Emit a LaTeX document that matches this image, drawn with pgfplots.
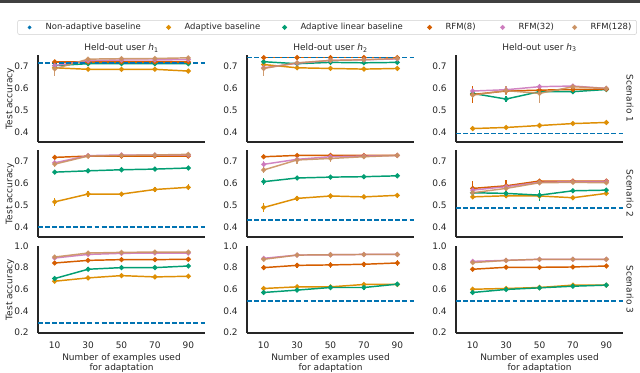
\documentclass[border=0pt]{standalone}
\usepackage{fontspec}
\setmainfont{DejaVu Sans}
\usepackage{pgfplots}
\usepackage{pgfplotstable}
\pgfplotsset{compat=1.18}

\definecolor{cblue}{HTML}{0173B2}
\definecolor{corange}{HTML}{DE8F05}
\definecolor{cgreen}{HTML}{029E73}
\definecolor{cverm}{HTML}{D55E00}
\definecolor{cpink}{HTML}{CC78BC}
\definecolor{ctan}{HTML}{CA9161}
\definecolor{txt}{HTML}{262626}

% columns: x, adaptive, adaptive linear, RFM(8), RFM(32), RFM(128) (value + error)
\pgfplotstableread{
x  ab    abe   alb   albe  ra    rae   rb    rbe   rc    rce
10 0.695 0.008 0.705 0.006 0.722 0.004 0.705 0.012 0.690 0.034
30 0.688 0.005 0.714 0.003 0.722 0.003 0.728 0.004 0.735 0.004
50 0.688 0.004 0.714 0.003 0.722 0.003 0.731 0.003 0.737 0.003
70 0.688 0.004 0.714 0.003 0.722 0.003 0.731 0.003 0.738 0.003
90 0.680 0.004 0.714 0.003 0.722 0.003 0.733 0.003 0.741 0.003
}\tAA
\pgfplotstableread{
x  ab    abe   alb   albe  ra    rae   rb    rbe   rc    rce
10 0.710 0.006 0.723 0.005 0.742 0.003 0.695 0.012 0.692 0.033
30 0.695 0.005 0.714 0.004 0.742 0.003 0.716 0.006 0.718 0.006
50 0.692 0.004 0.720 0.003 0.742 0.003 0.729 0.004 0.729 0.004
70 0.689 0.004 0.718 0.003 0.742 0.003 0.732 0.003 0.732 0.003
90 0.692 0.004 0.720 0.003 0.742 0.003 0.736 0.003 0.738 0.003
}\tAB
\pgfplotstableread{
x  ab    abe   alb   albe  ra    rae   rb    rbe   rc    rce
10 0.415 0.008 0.577 0.010 0.572 0.040 0.588 0.010 0.569 0.012
30 0.420 0.007 0.551 0.015 0.588 0.012 0.594 0.010 0.590 0.020
50 0.429 0.008 0.585 0.010 0.592 0.010 0.608 0.008 0.577 0.045
70 0.438 0.007 0.585 0.008 0.595 0.008 0.611 0.008 0.608 0.008
90 0.443 0.008 0.595 0.006 0.597 0.006 0.600 0.006 0.600 0.006
}\tAC
\pgfplotstableread{
x  ab    abe   alb   albe  ra    rae   rb    rbe   rc    rce
10 0.515 0.017 0.652 0.006 0.720 0.005 0.695 0.012 0.689 0.015
30 0.551 0.012 0.658 0.006 0.726 0.004 0.728 0.004 0.726 0.004
50 0.551 0.010 0.663 0.005 0.726 0.004 0.731 0.003 0.729 0.003
70 0.572 0.010 0.666 0.005 0.726 0.004 0.731 0.003 0.731 0.003
90 0.582 0.013 0.671 0.005 0.726 0.004 0.731 0.003 0.734 0.003
}\tBA
\pgfplotstableread{
x  ab    abe   alb   albe  ra    rae   rb    rbe   rc    rce
10 0.489 0.022 0.608 0.017 0.723 0.008 0.688 0.015 0.662 0.012
30 0.531 0.012 0.625 0.005 0.729 0.004 0.711 0.008 0.708 0.020
50 0.542 0.010 0.629 0.004 0.729 0.003 0.723 0.005 0.715 0.015
70 0.538 0.010 0.631 0.004 0.729 0.003 0.726 0.004 0.723 0.008
90 0.545 0.012 0.635 0.004 0.729 0.003 0.729 0.003 0.729 0.004
}\tBB
\pgfplotstableread{
x  ab    abe   alb   albe  ra    rae   rb    rbe   rc    rce
10 0.538 0.008 0.557 0.010 0.577 0.035 0.569 0.012 0.557 0.015
30 0.543 0.008 0.554 0.010 0.589 0.025 0.585 0.010 0.577 0.010
50 0.542 0.008 0.546 0.025 0.611 0.006 0.605 0.006 0.603 0.006
70 0.534 0.006 0.566 0.006 0.611 0.006 0.608 0.006 0.605 0.006
90 0.554 0.006 0.569 0.006 0.611 0.006 0.608 0.006 0.603 0.006
}\tBC
\pgfplotstableread{
x  ab    abe   alb   albe  ra    rae   rb    rbe   rc    rce
10 0.674 0.010 0.699 0.025 0.843 0.020 0.889 0.015 0.898 0.020
30 0.705 0.010 0.785 0.020 0.867 0.015 0.922 0.008 0.935 0.008
50 0.726 0.008 0.800 0.015 0.874 0.015 0.932 0.006 0.941 0.006
70 0.714 0.008 0.800 0.015 0.874 0.015 0.935 0.006 0.944 0.006
90 0.720 0.008 0.815 0.015 0.877 0.015 0.935 0.006 0.944 0.006
}\tCA
\pgfplotstableread{
x  ab    abe   alb   albe  ra    rae   rb    rbe   rc    rce
10 0.607 0.010 0.570 0.020 0.800 0.025 0.886 0.012 0.877 0.015
30 0.622 0.010 0.592 0.020 0.821 0.025 0.916 0.006 0.916 0.006
50 0.622 0.010 0.616 0.020 0.825 0.025 0.919 0.006 0.919 0.006
70 0.644 0.010 0.616 0.020 0.831 0.025 0.922 0.006 0.922 0.006
90 0.644 0.010 0.647 0.020 0.843 0.025 0.922 0.006 0.922 0.006
}\tCB
\pgfplotstableread{
x  ab    abe   alb   albe  ra    rae   rb    rbe   rc    rce
10 0.600 0.010 0.570 0.020 0.785 0.020 0.858 0.012 0.846 0.012
30 0.607 0.010 0.598 0.015 0.803 0.020 0.867 0.008 0.867 0.008
50 0.616 0.010 0.613 0.015 0.803 0.020 0.877 0.006 0.877 0.006
70 0.638 0.010 0.628 0.015 0.806 0.020 0.877 0.006 0.877 0.006
90 0.638 0.010 0.638 0.015 0.815 0.020 0.877 0.006 0.877 0.006
}\tCC

\newcommand{\fs}{\fontsize{6.75}{7.6}\selectfont}

\pgfplotsset{
  panel/.style={
    scale only axis, width=125.25pt, height=65.25pt, anchor=south west,
    xmin=0, xmax=100, xtick={10,30,50,70,90},
    axis lines*=left, axis line style={txt, line width=0.9pt},
    major tick length=0pt, tick style={draw=none},
    font=\fs, ticklabel style={text=txt},
    /pgf/number format/assume math mode=true,
    /pgf/number format/fixed, /pgf/number format/fixed zerofill,
    /pgf/number format/precision=1,
    yticklabel style={xshift=-3.5pt},
    xticklabel style={yshift=-3pt, /pgf/number format/precision=0},
    every axis title shift=0pt,
    title style={at={(0.5,1)}, anchor=south, yshift=0.5pt, inner sep=1.5pt, text=txt},
    every axis y label/.style={at={(axis description cs:-0.168,0.5)}, rotate=90, anchor=center, text=txt},
    every axis x label/.style={at={(axis description cs:0.5,0)}, anchor=north, yshift=-15.5pt, inner sep=0pt, align=center, text=txt},
    clip=false,
  },
  toprow/.style={ymin=0.353, ymax=0.754, ytick={0.4,0.5,0.6,0.7}, xticklabels={}},
  botrow/.style={ymin=0.195, ymax=1.0, ytick={0.2,0.4,0.6,0.8,1.0},
    xlabel={Number of examples used\\for adaptation}},
  dotleg/.style={legend image code/.code={\path[draw=none, fill=none] (-5pt,0pt) -- (12pt,0pt); \fill (0pt,0pt) circle (1.2pt);}},
  ser/.style={dotleg, color=#1, line width=1.1pt, mark=*, mark size=1.3pt,
    mark options={solid},
    error bars/.cd, y dir=both, y explicit, error mark=none,
    error bar style={line width=1pt, color=#1}},
}

\newcommand{\plotpanel}[2]{%
  \addlegendimage{dotleg, color=cblue}
  \addplot[ser=corange] table[x=x, y=ab, y error=abe]{#1};
  \addplot[ser=cgreen] table[x=x, y=alb, y error=albe]{#1};
  \addplot[ser=cverm] table[x=x, y=ra, y error=rae]{#1};
  \addplot[opacity=0.9, ser=cpink] table[x=x, y=rb, y error=rbe]{#1};
  \addplot[opacity=0.9, ser=ctan] table[x=x, y=rc, y error=rce]{#1};
  \addplot[forget plot, color=cblue, line width=1.3pt, dash pattern=on 3.7pt off 1.6pt] coordinates {(0,#2) (100,#2)};
}

\begin{document}
\begin{tikzpicture}
\useasboundingbox (0,0) rectangle (480pt,-279pt);
\fill[black!75] (0,0) rectangle (480pt,-2pt);

% row 1
\begin{axis}[panel, toprow, at={(28.5pt,-106.5pt)}, title={Held-out user \textit{h}\textsubscript{1}},
  ylabel={Test accuracy},
  legend columns=6,
  legend style={at={(axis description cs:0,1)}, anchor=north west, xshift=-15.5pt, yshift=26.25pt,
    draw=black!18, rounded corners=1.5pt, inner xsep=4pt, inner ysep=2.2pt,
    font=\fontsize{6.35}{7}\selectfont, text=txt,
    nodes={inner sep=0pt, text height=5pt, text depth=1.3pt}, column sep=0pt},
  legend cell align=left]
\plotpanel{\tAA}{0.718}
\legend{\makebox[87.25pt][l]{Non-adaptive baseline},\makebox[70pt][l]{Adaptive baseline},
  \makebox[91.75pt][l]{Adaptive linear baseline},\makebox[37.75pt][l]{RFM(8)},
  \makebox[37pt][l]{RFM(32)},\makebox[30.5pt][l]{RFM(128)}}
\end{axis}
\begin{axis}[panel, toprow, at={(185.25pt,-106.5pt)}, title={Held-out user \textit{h}\textsubscript{2}}]
\plotpanel{\tAB}{0.743}
\end{axis}
\begin{axis}[panel, toprow, at={(342pt,-106.5pt)}, title={Held-out user \textit{h}\textsubscript{3}}]
\plotpanel{\tAC}{0.392}
\node[rotate=-90, text=txt] at (rel axis cs:1.042,0.5) {Scenario 1};
\end{axis}

% row 2
\begin{axis}[panel, toprow, at={(28.5pt,-177.75pt)}, ylabel={Test accuracy}]
\plotpanel{\tBA}{0.400}
\end{axis}
\begin{axis}[panel, toprow, at={(185.25pt,-177.75pt)}]
\plotpanel{\tBB}{0.431}
\end{axis}
\begin{axis}[panel, toprow, at={(342pt,-177.75pt)}]
\plotpanel{\tBC}{0.485}
\node[rotate=-90, text=txt] at (rel axis cs:1.042,0.5) {Scenario 2};
\end{axis}

% row 3
\begin{axis}[panel, botrow, at={(28.5pt,-249.75pt)}, ylabel={Test accuracy}]
\plotpanel{\tCA}{0.285}
\end{axis}
\begin{axis}[panel, botrow, at={(185.25pt,-249.75pt)}]
\plotpanel{\tCB}{0.491}
\end{axis}
\begin{axis}[panel, botrow, at={(342pt,-249.75pt)}]
\plotpanel{\tCC}{0.494}
\node[rotate=-90, text=txt] at (rel axis cs:1.042,0.5) {Scenario 3};
\end{axis}
\end{tikzpicture}
\end{document}
